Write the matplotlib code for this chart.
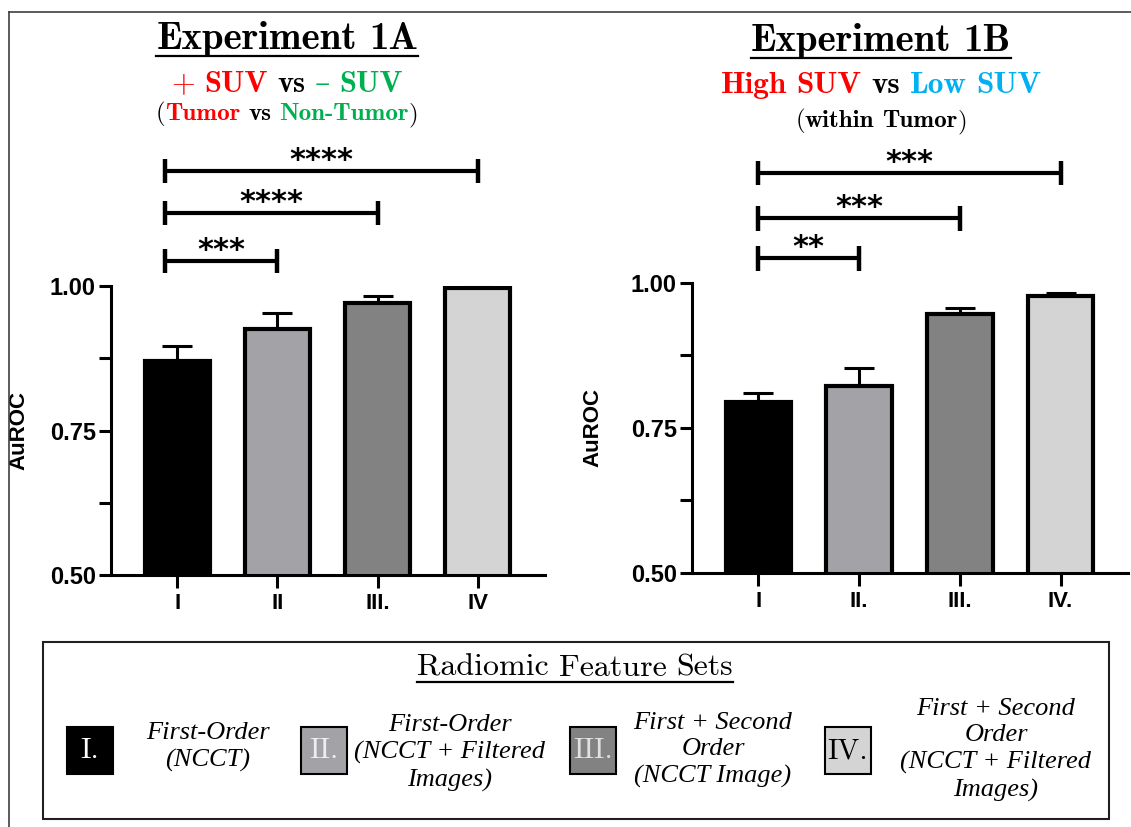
import matplotlib
matplotlib.use('Agg')
import matplotlib.pyplot as plt
import matplotlib.transforms as mtransforms
from matplotlib.patches import Rectangle
from matplotlib.lines import Line2D
from matplotlib.ticker import MultipleLocator

W, H, DPI = 1131, 827, 100

# data
exp1a_ticks = ['I', 'II', 'III.', 'IV']
exp1b_ticks = ['I', 'II.', 'III.', 'IV.']
exp1a_auc = [0.871, 0.926, 0.970, 0.996]
exp1a_err = [0.025, 0.027, 0.013, 0.003]
exp1b_auc = [0.795, 0.822, 0.946, 0.977]
exp1b_err = [0.014, 0.031, 0.011, 0.006]

# comparisons: (from bar, to bar, stars)
exp1a_comps = [(0, 1, '***'), (0, 2, '****'), (0, 3, '****')]
exp1a_comp_y = [1.043, 1.126, 1.199]
exp1b_comps = [(0, 1, '**'), (0, 2, '***'), (0, 3, '***')]
exp1b_comp_y = [1.042, 1.111, 1.189]

bar_colors = ['#000000', '#a3a2a7', '#828282', '#d4d4d4']
legend_tags = ['I.', 'II.', 'III.', 'IV.']
legend_tag_colors = ['white', '#eeeeee', '#e0e0e0', 'black']
legend_texts = ['First-Order\n(NCCT)',
                'First-Order\n(NCCT + Filtered\nImages)',
                'First + Second\nOrder\n(NCCT Image)',
                'First + Second\nOrder\n(NCCT + Filtered\nImages)']

RED = '#ff0000'
GREEN = '#00b050'
BLUE = '#00b0f0'
SERIF_B = ['cmb10', 'DejaVu Serif']
SERIF_R = ['cmr10', 'DejaVu Serif']

plt.rcParams['font.family'] = 'Liberation Sans'
plt.rcParams['font.weight'] = 'bold'

fig = plt.figure(figsize=(W / DPI, H / DPI), dpi=DPI)
# pixel coords with the origin at top-left
pix = mtransforms.Affine2D().scale(1 / W, -1 / H).translate(0, 1) + fig.transFigure
renderer = fig.canvas.get_renderer()


def word_line(cx, y, words, size, family):
    runs = []
    for word in words:
        texts = []
        for run in word:
            fam = run[2] if len(run) > 2 else family
            t = fig.text(0, y, run[0], color=run[1], fontsize=size, family=fam,
                         fontweight='normal', va='baseline', ha='left', transform=pix)
            texts.append(t)
        runs.append(texts)
    gap = size * 0.31 * DPI / 72
    widths = [[t.get_window_extent(renderer).width for t in w] for w in runs]
    total = sum(sum(w) for w in widths) + gap * (len(runs) - 1)
    xx = cx - total / 2
    for texts, ws in zip(runs, widths):
        for t, w in zip(texts, ws):
            t.set_x(xx)
            xx += w
        xx += gap
    return cx - total / 2, cx + total / 2


def underline(x0, x1, y):
    fig.add_artist(Line2D([x0, x1], [y, y], transform=pix, color='black', lw=1.6))


def draw_panel(rect, auc, err, ticks, comps, comp_y, left_shift, ylab_x):
    ax = fig.add_axes(rect)
    x = list(range(len(auc)))
    ax.bar(x, auc, width=0.65, color=bar_colors, edgecolor='black', linewidth=3, zorder=2)
    eb = ax.errorbar(x, auc, yerr=[[0] * len(err), err], fmt='none', ecolor='black',
                     elinewidth=2.2, capsize=11, capthick=2.2, zorder=1)
    for a in eb.get_children():
        a.set_clip_on(False)
    ax.set_ylim(0.5, 1.0)
    ax.set_xlim(-0.66, 3.67)
    ax.yaxis.set_major_locator(MultipleLocator(0.25))
    ax.yaxis.set_minor_locator(MultipleLocator(0.125))
    ax.set_yticklabels([], minor=True)
    ax.yaxis.set_major_formatter(matplotlib.ticker.FormatStrFormatter('%.2f'))
    ax.set_xticks(x)
    ax.set_xticklabels(ticks)
    for s in ['top', 'right']:
        ax.spines[s].set_visible(False)
    for s in ['left', 'bottom']:
        ax.spines[s].set_linewidth(2.2)
    ax.tick_params(axis='both', which='both', direction='out', width=2.2, length=9)
    ax.tick_params(axis='y', labelsize=17, pad=2)
    ax.tick_params(axis='x', labelsize=16, pad=4)
    ax.set_ylabel('AuROC', fontsize=16, fontweight='bold')
    ax.yaxis.set_label_coords(ylab_x, 0.5)

    tick_h = 0.021
    for (i, j, stars), h in zip(comps, comp_y):
        x0 = i + left_shift
        x1 = j
        ax.plot([x0, x1], [h, h], color='black', lw=3, clip_on=False, solid_capstyle='butt')
        for xx in (x0, x1):
            ax.plot([xx, xx], [h - tick_h, h + tick_h], color='black', lw=3.2,
                    clip_on=False, solid_capstyle='butt')
        ax.annotate(stars, ((x0 + x1) / 2, h), xytext=(0, 1.5), textcoords='offset points',
                    ha='center', va='baseline', fontsize=22, fontweight='bold',
                    family='DejaVu Sans', annotation_clip=False)
    return ax


draw_panel([111 / W, 1 - 575 / H, 434 / W, 289 / H], exp1a_auc, exp1a_err, exp1a_ticks,
           exp1a_comps, exp1a_comp_y, -0.12, -0.187)
draw_panel([692 / W, 1 - 572.7 / H, 436 / W, 290 / H], exp1b_auc, exp1b_err, exp1b_ticks,
           exp1b_comps, exp1b_comp_y, 0.0, -0.202)

# titles
l, r = word_line(287, 49, [[('Experiment', 'black')], [('1A', 'black')]], 28, SERIF_B)
underline(l, r, 56)
word_line(287, 92, [[('+', RED, SERIF_R)], [('SUV', RED)], [('vs', 'black')],
                    [('\u2013', GREEN, SERIF_R)], [('SUV', GREEN)]], 22, SERIF_B)
word_line(287, 120, [[('(', 'black', SERIF_R), ('Tumor', RED)], [('vs', 'black')],
                     [('Non-Tumor', GREEN), (')', 'black', SERIF_R)]], 18, SERIF_B)

l, r = word_line(881, 51, [[('Experiment', 'black')], [('1B', 'black')]], 28, SERIF_B)
underline(l, r, 58)
word_line(881, 93, [[('High', RED)], [('SUV', RED)], [('vs', 'black')],
                    [('Low', BLUE)], [('SUV', BLUE)]], 22.5, SERIF_B)
word_line(881, 127, [[('(', 'black', SERIF_R), ('within', 'black')],
                     [('Tumor', 'black'), (')', 'black', SERIF_R)]], 18, SERIF_B)

# outer frame (top and left)
fig.add_artist(Line2D([9, W], [12, 12], transform=pix, color='#404040', lw=1.2))
fig.add_artist(Line2D([9, 9], [12, H], transform=pix, color='#404040', lw=1.2))

# legend box
fig.add_artist(Rectangle((43, 642), 1066, 177, transform=pix, fill=False,
                         edgecolor='#202020', lw=1.5))
l, r = word_line(575, 676, [[('Radiomic', 'black')], [('Feature', 'black')],
                            [('Sets', 'black')]], 23, SERIF_R)
underline(l, r, 682)

sq_left = [67, 301, 570, 825]
txt_center = [208, 450, 713, 996]
txt_mid = [747, 753, 750, 750]
for k in range(4):
    fig.add_artist(Rectangle((sq_left[k], 727), 46, 47, transform=pix,
                             facecolor=bar_colors[k], edgecolor='black', lw=1.5))
    fig.text(sq_left[k] + 23, 751, legend_tags[k], transform=pix, ha='center', va='center',
             fontsize=21, family=SERIF_R, fontweight='normal', color=legend_tag_colors[k])
    fig.text(txt_center[k], txt_mid[k], legend_texts[k], transform=pix, ha='center',
             va='center', multialignment='center', fontsize=19, family='Liberation Serif',
             style='italic', fontweight='normal', linespacing=1.28)

fig.savefig('out.png', dpi=DPI)
